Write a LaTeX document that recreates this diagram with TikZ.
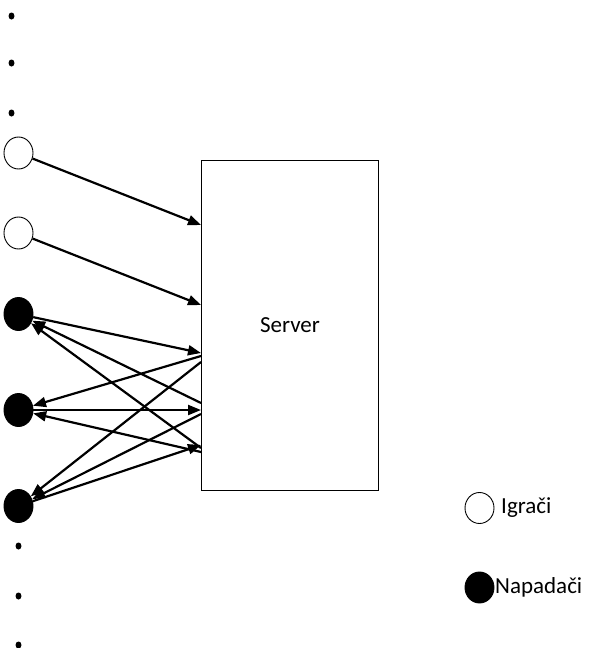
\documentclass[tikz,border=0pt]{standalone}
\usepackage{fontspec}
\setmainfont{Carlito}
\usetikzlibrary{shapes.geometric,arrows.meta}
\begin{document}
\begin{tikzpicture}[x=1pt,y=-1pt,
  player/.style={ellipse,draw,line width=0.9pt,fill=white,minimum width=29pt,minimum height=32pt,inner sep=0pt},
  attacker/.style={ellipse,draw,line width=0.9pt,fill=black,minimum width=29pt,minimum height=33pt,inner sep=0pt},
  dotmark/.style={ellipse,fill=black,minimum width=6pt,minimum height=7pt,inner sep=0pt},
  conn/.style={line width=2.2pt,-{Triangle[length=13pt,width=10pt]}},
  lbl/.style={font=\fontsize{23}{26}\selectfont}]
\useasboundingbox (0,0) rectangle (593,648);
% server
\node[draw,line width=0.9pt,minimum width=177pt,minimum height=330pt,inner sep=0pt,anchor=north west,lbl] (srv) at (201,160) {Server};
% left nodes
\node[player] (w1) at (18.5,153) {};
\node[player] (w2) at (18.5,233) {};
\node[attacker] (b1) at (18.5,314) {};
\node[attacker] (b2) at (18.5,410) {};
\node[attacker] (b3) at (18.5,506) {};
% dots
\node[dotmark] (d1) at (11.5,16) {};
\node[dotmark] (d2) at (11.5,63) {};
\node[dotmark] (d3) at (11.5,113) {};
\node[dotmark] (d4) at (18.5,546) {};
\node[dotmark] (d5) at (18.5,596) {};
\node[dotmark] (d6) at (18.5,645) {};
% server attach points
\coordinate (s1) at (201,225);
\coordinate (s2) at (201,305);
\coordinate (s3) at (201,353);
\coordinate (s4) at (201,356);
\coordinate (s5) at (201,362);
\coordinate (s6) at (201,403);
\coordinate (s7) at (201,410);
\coordinate (s8) at (201,414);
\coordinate (s9) at (201,445);
\coordinate (s10) at (201,448);
\coordinate (s11) at (201,452);
% connectors
\draw[conn] (w1) -- (s1);
\draw[conn] (w2) -- (s2);
\draw[conn] (b1) -- (s3);
\draw[conn] (s4) -- (b2);
\draw[conn] (s5) -- (b3);
\draw[conn] (s6) -- (b1);
\draw[conn] (b2) -- (s7);
\draw[conn] (s8) -- (b3);
\draw[conn] (b3) -- (s9);
\draw[conn] (s10) -- (b1);
\draw[conn] (s11) -- (b2);
% legend
\node[player,minimum height=31pt] (lw) at (479.5,508) {};
\node[lbl,anchor=west,inner sep=0pt] (lwt) at (501,508) {Igrači};
\node[attacker,minimum height=31pt] (lb) at (479.5,587.5) {};
\node[lbl,anchor=west,inner sep=0pt] (lbt) at (495,587.5) {Napadači};
\end{tikzpicture}
\end{document}
